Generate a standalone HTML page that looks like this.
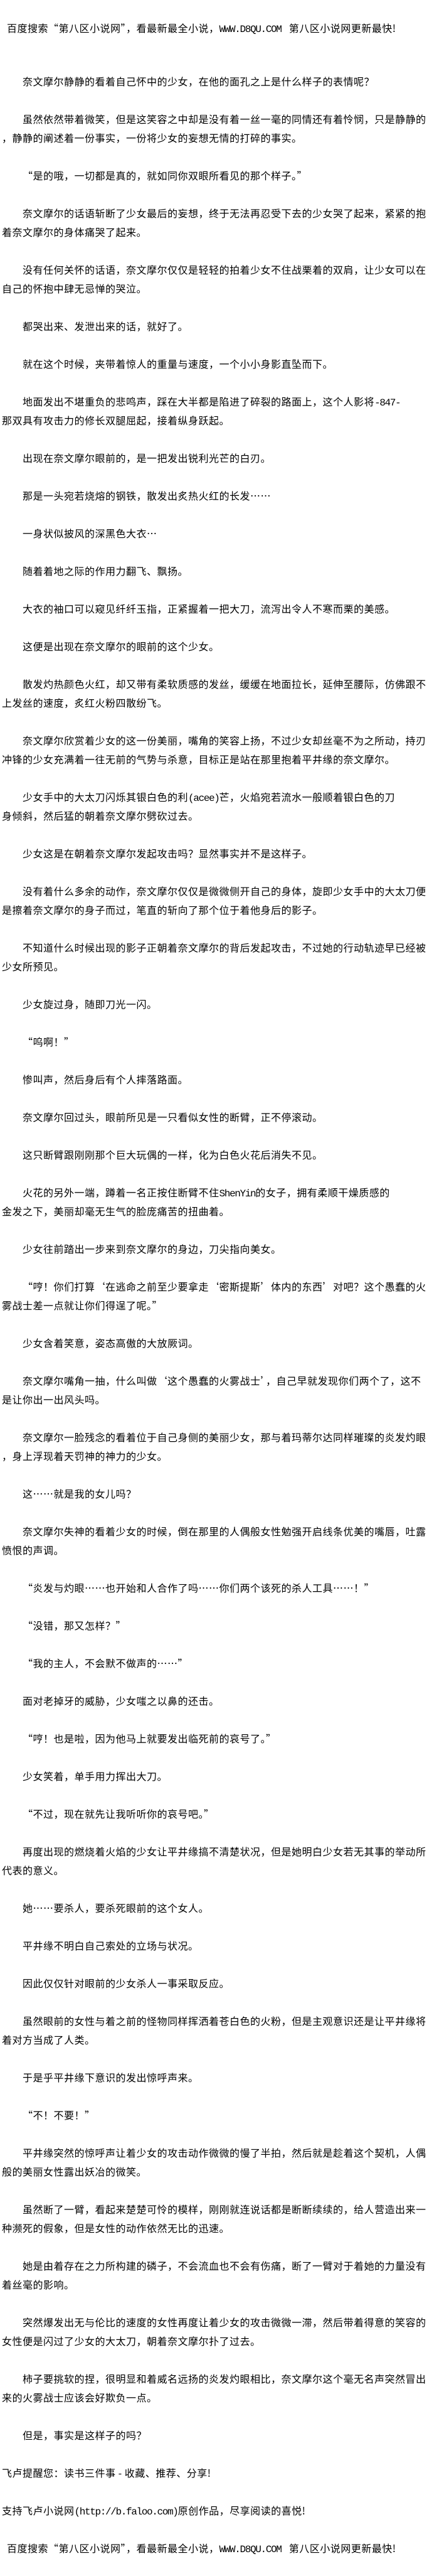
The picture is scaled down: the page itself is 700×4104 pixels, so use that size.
<!DOCTYPE html>
<html lang="zh-CN">
<head>
<meta charset="utf-8">
<style>
html,body{margin:0;padding:0;background:#fff;}
body{width:700px;height:4100px;position:relative;overflow:hidden;color:#000;font-family:"WenQuanYi Zen Hei","Noto Sans CJK SC",sans-serif;font-size:16px;letter-spacing:.5px;line-height:30px;}
#h{position:absolute;left:11px;top:29px;white-space:pre;}
#c{position:absolute;left:3px;top:114px;width:697px;}
p{margin:0 0 30px;white-space:pre;}
p.i{padding-left:33px;}
p.f{padding-left:8px;}
.m{font-family:"Liberation Mono",monospace;font-size:16px;letter-spacing:-1.35px;line-height:0;}
.b{margin-left:-33px;}
</style>
</head>
<body>
<div id="h">百度搜索“第八区小说网”，看最新最全小说，<span class="m">WWW.D8QU.COM</span>   第八区小说网更新最快!</div>
<div id="c">
<p class="i">奈文摩尔静静的看着自己怀中的少女，在他的面孔之上是什么样子的表情呢？</p>
<p class="i">虽然依然带着微笑，但是这笑容之中却是没有着一丝一毫的同情还有着怜悯，只是静静的<br><span class="b">，静静的阐述着一份事实，一份将少女的妄想无情的打碎的事实。</span></p>
<p class="i">“是的哦，一切都是真的，就如同你双眼所看见的那个样子。”</p>
<p class="i">奈文摩尔的话语斩断了少女最后的妄想，终于无法再忍受下去的少女哭了起来，紧紧的抱<br><span class="b">着奈文摩尔的身体痛哭了起来。</span></p>
<p class="i">没有任何关怀的话语，奈文摩尔仅仅是轻轻的拍着少女不住战栗着的双肩，让少女可以在<br><span class="b">自己的怀抱中肆无忌惮的哭泣。</span></p>
<p class="i">都哭出来、发泄出来的话，就好了。</p>
<p class="i">就在这个时候，夹带着惊人的重量与速度，一个小小身影直坠而下。</p>
<p class="i">地面发出不堪重负的悲鸣声，踩在大半都是陷进了碎裂的路面上，这个人影将<span class="m">-847-</span><br><span class="b">那双具有攻击力的修长双腿屈起，接着纵身跃起。</span></p>
<p class="i">出现在奈文摩尔眼前的，是一把发出锐利光芒的白刃。</p>
<p class="i">那是一头宛若烧熔的钢铁，散发出炙热火红的长发……</p>
<p class="i">一身状似披风的深黑色大衣…</p>
<p class="i">随着着地之际的作用力翻飞、飘扬。</p>
<p class="i">大衣的袖口可以窥见纤纤玉指，正紧握着一把大刀，流泻出令人不寒而栗的美感。</p>
<p class="i">这便是出现在奈文摩尔的眼前的这个少女。</p>
<p class="i">散发灼热颜色火红，却又带有柔软质感的发丝，缓缓在地面拉长，延伸至腰际，仿佛跟不<br><span class="b">上发丝的速度，炙红火粉四散纷飞。</span></p>
<p class="i">奈文摩尔欣赏着少女的这一份美丽，嘴角的笑容上扬，不过少女却丝毫不为之所动，持刃<br><span class="b">冲锋的少女充满着一往无前的气势与杀意，目标正是站在那里抱着平井缘的奈文摩尔。</span></p>
<p class="i">少女手中的大太刀闪烁其银白色的利<span class="m">(acee)</span>芒，火焰宛若流水一般顺着银白色的刀<br><span class="b">身倾斜，然后猛的朝着奈文摩尔劈砍过去。</span></p>
<p class="i">少女这是在朝着奈文摩尔发起攻击吗？显然事实并不是这样子。</p>
<p class="i">没有着什么多余的动作，奈文摩尔仅仅是微微侧开自己的身体，旋即少女手中的大太刀便<br><span class="b">是擦着奈文摩尔的身子而过，笔直的斩向了那个位于着他身后的影子。</span></p>
<p class="i">不知道什么时候出现的影子正朝着奈文摩尔的背后发起攻击，不过她的行动轨迹早已经被<br><span class="b">少女所预见。</span></p>
<p class="i">少女旋过身，随即刀光一闪。</p>
<p class="i">“呜啊！”</p>
<p class="i">惨叫声，然后身后有个人摔落路面。</p>
<p class="i">奈文摩尔回过头，眼前所见是一只看似女性的断臂，正不停滚动。</p>
<p class="i">这只断臂跟刚刚那个巨大玩偶的一样，化为白色火花后消失不见。</p>
<p class="i">火花的另外一端，蹲着一名正按住断臂不住<span class="m">ShenYin</span>的女子，拥有柔顺干燥质感的<br><span class="b">金发之下，美丽却毫无生气的脸庞痛苦的扭曲着。</span></p>
<p class="i">少女往前踏出一步来到奈文摩尔的身边，刀尖指向美女。</p>
<p class="i">“哼！你们打算‘在逃命之前至少要拿走‘密斯提斯’体内的东西’对吧？这个愚蠢的火<br><span class="b">雾战士差一点就让你们得逞了呢。”</span></p>
<p class="i">少女含着笑意，姿态高傲的大放厥词。</p>
<p class="i">奈文摩尔嘴角一抽，什么叫做‘这个愚蠢的火雾战士’，自己早就发现你们两个了，这不<br><span class="b">是让你出一出风头吗。</span></p>
<p class="i">奈文摩尔一脸残念的看着位于自己身侧的美丽少女，那与着玛蒂尔达同样璀璨的炎发灼眼<br><span class="b">，身上浮现着天罚神的神力的少女。</span></p>
<p class="i">这……就是我的女儿吗？</p>
<p class="i">奈文摩尔失神的看着少女的时候，倒在那里的人偶般女性勉强开启线条优美的嘴唇，吐露<br><span class="b">愤恨的声调。</span></p>
<p class="i">“炎发与灼眼……也开始和人合作了吗……你们两个该死的杀人工具……！”</p>
<p class="i">“没错，那又怎样？”</p>
<p class="i">“我的主人，不会默不做声的……”</p>
<p class="i">面对老掉牙的威胁，少女嗤之以鼻的还击。</p>
<p class="i">“哼！也是啦，因为他马上就要发出临死前的哀号了。”</p>
<p class="i">少女笑着，单手用力挥出大刀。</p>
<p class="i">“不过，现在就先让我听听你的哀号吧。”</p>
<p class="i">再度出现的燃烧着火焰的少女让平井缘搞不清楚状况，但是她明白少女若无其事的举动所<br><span class="b">代表的意义。</span></p>
<p class="i">她……要杀人，要杀死眼前的这个女人。</p>
<p class="i">平井缘不明白自己索处的立场与状况。</p>
<p class="i">因此仅仅针对眼前的少女杀人一事采取反应。</p>
<p class="i">虽然眼前的女性与着之前的怪物同样挥洒着苍白色的火粉，但是主观意识还是让平井缘将<br><span class="b">着对方当成了人类。</span></p>
<p class="i">于是乎平井缘下意识的发出惊呼声来。</p>
<p class="i">“不！不要！”</p>
<p class="i">平井缘突然的惊呼声让着少女的攻击动作微微的慢了半拍，然后就是趁着这个契机，人偶<br><span class="b">般的美丽女性露出妖冶的微笑。</span></p>
<p class="i">虽然断了一臂，看起来楚楚可怜的模样，刚刚就连说话都是断断续续的，给人营造出来一<br><span class="b">种濒死的假象，但是女性的动作依然无比的迅速。</span></p>
<p class="i">她是由着存在之力所构建的磷子，不会流血也不会有伤痛，断了一臂对于着她的力量没有<br><span class="b">着丝毫的影响。</span></p>
<p class="i">突然爆发出无与伦比的速度的女性再度让着少女的攻击微微一滞，然后带着得意的笑容的<br><span class="b">女性便是闪过了少女的大太刀，朝着奈文摩尔扑了过去。</span></p>
<p class="i">柿子要挑软的捏，很明显和着威名远扬的炎发灼眼相比，奈文摩尔这个毫无名声突然冒出<br><span class="b">来的火雾战士应该会好欺负一点。</span></p>
<p class="i">但是，事实是这样子的吗？</p>
<p>飞卢提醒您：读书三件事 - 收藏、推荐、分享!</p>
<p>支持飞卢小说网<span class="m">(http://b.faloo.com)</span>原创作品，尽享阅读的喜悦!</p>
<p class="f">百度搜索“第八区小说网”，看最新最全小说，<span class="m">WWW.D8QU.COM</span>   第八区小说网更新最快!</p>
</div>
</body>
</html>
